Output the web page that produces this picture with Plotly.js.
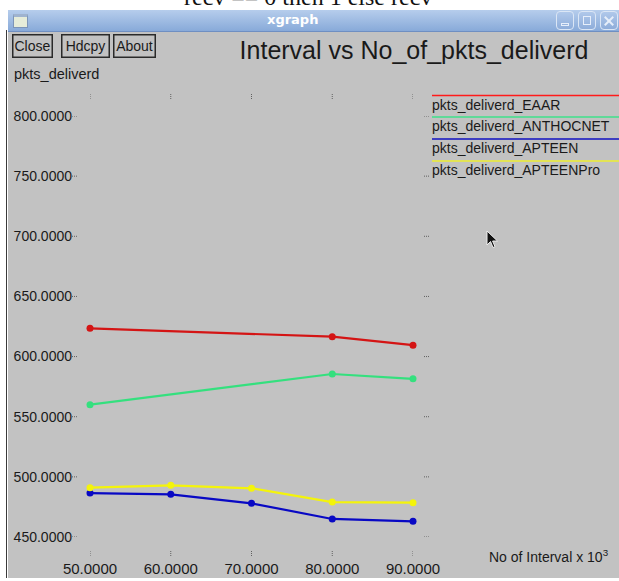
<!DOCTYPE html>
<html><head><meta charset="utf-8">
<script src="https://cdn.plot.ly/plotly-3.0.1.min.js"></script>
<style>
html,body{margin:0;padding:0;background:#fff;width:619px;height:581px;overflow:hidden;position:relative;}
#bg{position:absolute;left:8px;top:32px;width:611px;height:546px;background:#c2c2c2;}
#lb{position:absolute;left:6px;top:30px;width:1px;height:548px;background:#3a3a3a;}
#cutbox{position:absolute;left:0;top:0;width:619px;height:10px;overflow:hidden;}
#cut{position:absolute;left:184px;top:-15px;font-family:"Liberation Serif",serif;font-size:24px;line-height:24px;color:#111;white-space:nowrap;}
#tb{position:absolute;left:8px;top:10px;width:611px;height:21px;background:linear-gradient(#b6cdec,#88aad9);border-bottom:1px solid #6f8fc2;z-index:5;}
#tbt{position:absolute;left:259px;top:2px;font-family:"DejaVu Sans",sans-serif;font-weight:bold;font-size:13px;color:#fff;}
#ico{position:absolute;left:5px;top:4px;width:13px;height:10px;background:#e6ecd9;border:1px solid #7d95b8;border-top:3px solid #9fb3cf;}
.wb{position:absolute;top:1px;width:16px;height:17px;border:1px solid #dbe6f5;border-radius:4px;background:linear-gradient(#b0c8ea,#8eadda);}
.wb i{position:absolute;display:block;border:1px solid #e6eefa;}
#chart{position:absolute;left:0;top:0;width:619px;height:581px;z-index:2;}
#cur{position:absolute;left:486px;top:230px;z-index:6;}
</style></head>
<body>
<div id="bg"></div>
<div id="lb"></div>
<div id="cutbox"><div id="cut">recv == 0 then 1 else recv</div></div>
<div id="chart"></div>
<div id="tb"><div id="ico"></div><div id="tbt">xgraph</div>
<div class="wb" style="left:548px"><i style="left:4px;top:11px;width:6px;height:1px"></i></div>
<div class="wb" style="left:570px"><i style="left:4px;top:4px;width:6px;height:7px"></i></div>
<div class="wb" style="left:592px"><i style="left:7px;top:3px;width:0px;height:10px;transform:rotate(45deg)"></i><i style="left:7px;top:3px;width:0px;height:10px;transform:rotate(-45deg)"></i></div></div>
<svg id="cur" width="14" height="20" viewBox="0 0 14 20"><path d="M1,1 L1,15 L4.5,11.5 L7,17.5 L9,16.7 L6.6,11 L11.5,11 Z" fill="#111" stroke="#eee" stroke-width="1"/></svg>
<script>
// ---- data ----
var seriesNames = ["pkts_deliverd_EAAR", "pkts_deliverd_ANTHOCNET", "pkts_deliverd_APTEEN", "pkts_deliverd_APTEENPro"];
var xEAAR = [50, 80, 90];
var yEAAR = [623.5, 616.5, 609.5];
var xANTHOCNET = [50, 80, 90];
var yANTHOCNET = [560, 585.5, 581.5];
var xAPTEEN = [50, 60, 70, 80, 90];
var yAPTEEN = [486.5, 485.5, 478, 465, 463];
var xAPTEENPro = [50, 60, 70, 80, 90];
var yAPTEENPro = [491, 493, 490.5, 479, 478.5];
var xTickVals = [50, 60, 70, 80, 90];
var xTickText = ["50.0000", "60.0000", "70.0000", "80.0000", "90.0000"];
var yTickVals = [450, 500, 550, 600, 650, 700, 750, 800];
var yTickText = ["450.0000", "500.0000", "550.0000", "600.0000", "650.0000", "700.0000", "750.0000", "800.0000"];
var chartTitle = "Interval vs No_of_pkts_deliverd";
var yLabel = "pkts_deliverd";
var xLabel = "No of Interval x 10<sup>3</sup>";
var buttons = ["Close", "Hdcpy", "About"];

// ---- styles ----
var lineColors = ["#d41414", "#34e07e", "#0808c4", "#f4f40a"];
var legendColors = ["#ff1a1a", "#3ee08a", "#1010c0", "#eeee30"];
var FONT = "Liberation Sans, Arial, sans-serif";
var L = 90, R = 206, T = 116, B = 44, W = 619, H = 581;
var PW = W - L - R, PH = H - T - B;
function px(x) { return (x - L) / PW; }
function py(y) { return 1 - (y - T) / PH; }

var xs = [xEAAR, xANTHOCNET, xAPTEEN, xAPTEENPro];
var ys = [yEAAR, yANTHOCNET, yAPTEEN, yAPTEENPro];
var traces = seriesNames.map(function (n, i) {
  return {
    x: xs[i], y: ys[i], name: n, type: "scatter", mode: "lines+markers",
    line: {color: lineColors[i], width: 2.2},
    marker: {color: lineColors[i], size: 7},
    cliponaxis: false, hoverinfo: "skip"
  };
});

var shapes = [], annotations = [];
var tickCol = "#606060";
yTickVals.forEach(function (v) {
  shapes.push({type: "line", xref: "paper", yref: "y", x0: px(72), x1: px(78), y0: v, y1: v,
    line: {color: tickCol, width: 1, dash: "1px,1px"}});
  shapes.push({type: "line", xref: "paper", yref: "y", x0: px(424), x1: px(430), y0: v, y1: v,
    line: {color: tickCol, width: 1, dash: "1px,1px"}});
});
xTickVals.forEach(function (v) {
  shapes.push({type: "line", xref: "x", yref: "paper", x0: v, x1: v, y0: py(94), y1: py(100),
    line: {color: tickCol, width: 1, dash: "1px,1px"}});
  shapes.push({type: "line", xref: "x", yref: "paper", x0: v, x1: v, y0: py(551), y1: py(557),
    line: {color: tickCol, width: 1, dash: "1px,1px"}});
});
var legLineY = [95.5, 117, 139, 161];
var legTextY = [105, 126.5, 148, 170];
seriesNames.forEach(function (n, i) {
  shapes.push({type: "line", xref: "paper", yref: "paper", x0: px(432), x1: px(619), y0: py(legLineY[i]), y1: py(legLineY[i]),
    line: {color: legendColors[i], width: 1.5}});
  annotations.push({text: n, xref: "paper", yref: "paper", x: px(430), y: py(legTextY[i]), xanchor: "left", yanchor: "middle",
    showarrow: false, font: {family: FONT, size: 14, color: "#1a1a1a"}});
});
var btnCx = [32, 85, 134], btnW = [38, 46, 40];
buttons.forEach(function (b, i) {
  annotations.push({text: b, xref: "paper", yref: "paper", x: px(btnCx[i]), y: py(45.5), xanchor: "center", yanchor: "middle",
    showarrow: false, width: btnW[i], height: 21, borderpad: 0, borderwidth: 1.5, bordercolor: "#2a2a2a", bgcolor: "#c2c2c2",
    font: {family: FONT, size: 14, color: "#1a1a1a"}});
});
annotations.push({text: yLabel, xref: "paper", yref: "paper", x: px(12), y: py(74), xanchor: "left", yanchor: "middle",
  showarrow: false, font: {family: FONT, size: 14.5, color: "#1a1a1a"}});
annotations.push({text: xLabel, xref: "paper", yref: "paper", x: px(487), y: py(556), xanchor: "left", yanchor: "middle",
  showarrow: false, font: {family: FONT, size: 14, color: "#1a1a1a"}});

var layout = {
  width: W, height: H,
  margin: {l: L, r: R, t: T, b: B, pad: 0},
  paper_bgcolor: "rgba(0,0,0,0)", plot_bgcolor: "rgba(0,0,0,0)",
  showlegend: false,
  title: {text: chartTitle, x: 414 / W, xanchor: "center", y: 1 - 50 / H, yanchor: "middle",
    font: {family: FONT, size: 25, color: "#1a1a1a"}},
  xaxis: {range: [50, 90], tickvals: xTickVals, ticktext: xTickText, showgrid: false, zeroline: false, showline: false,
    ticks: "", ticklabelstandoff: 21, automargin: false, fixedrange: true,
    tickfont: {family: FONT, size: 15, color: "#1a1a1a"}},
  yaxis: {range: [450, 800], tickvals: yTickVals, ticktext: yTickText, showgrid: false, zeroline: false, showline: false,
    ticks: "", ticklabelstandoff: 17, automargin: false, fixedrange: true,
    tickfont: {family: FONT, size: 14, color: "#1a1a1a"}},
  shapes: shapes, annotations: annotations
};
Plotly.newPlot("chart", traces, layout, {displayModeBar: false, staticPlot: true});
</script>
</body></html>
